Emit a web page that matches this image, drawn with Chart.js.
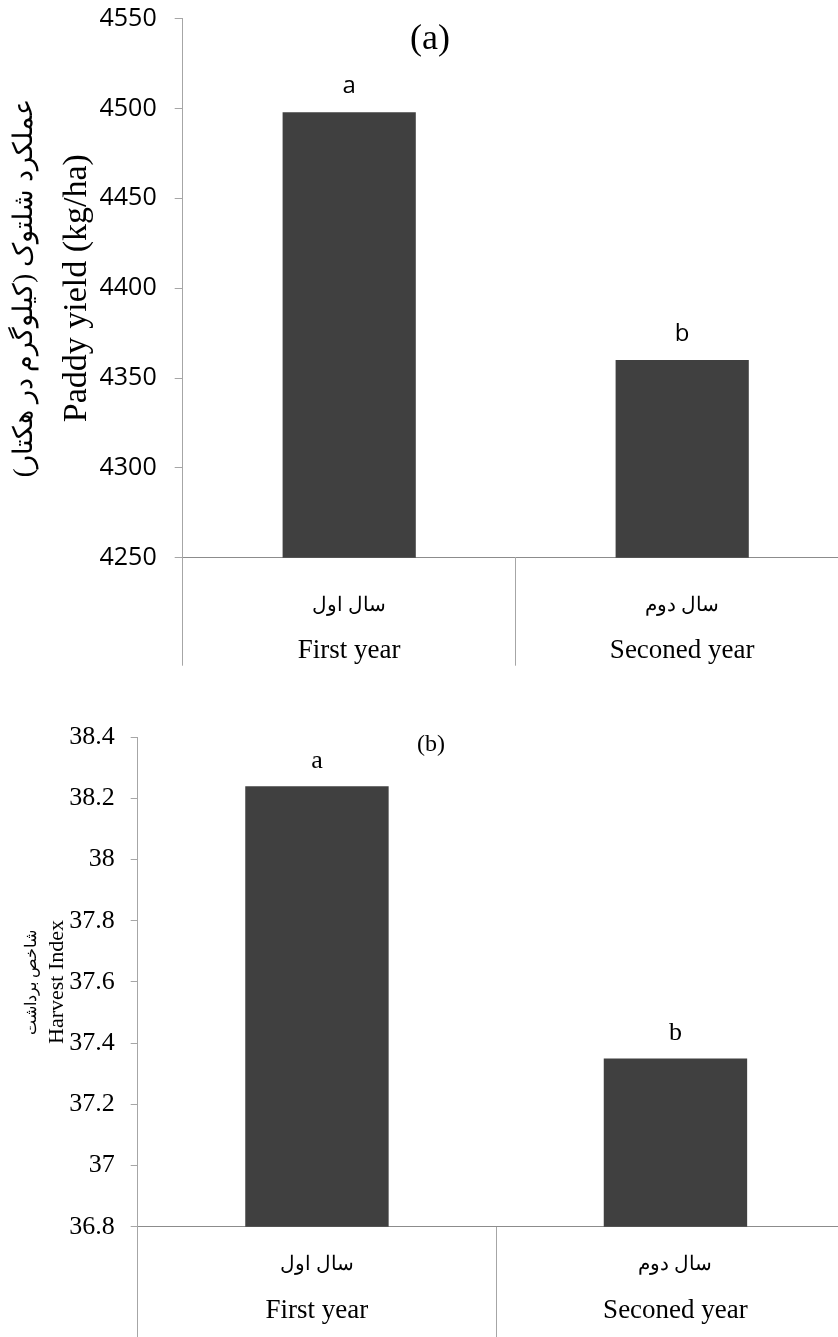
<!DOCTYPE html>
<html>
<head>
<meta charset="utf-8">
<script src="https://cdn.jsdelivr.net/npm/chart.js@4.4.0/dist/chart.umd.min.js"></script>
<style>
  html, body { margin: 0; padding: 0; background: #fff; overflow: hidden; }
  #wrap { position: relative; width: 838px; height: 1337px; overflow: hidden; }
  canvas { position: absolute; left: 0; }
  #chartA { top: 0; width: 860px; height: 680px; }
  #chartB { top: 680px; width: 870px; height: 657px; }
</style>
</head>
<body>
<div id="wrap">
  <canvas id="chartA" width="860" height="680"></canvas>
  <canvas id="chartB" width="870" height="657"></canvas>
</div>
<script>
// ---------------- DATA ----------------

const yearsFa = ['سال اول', 'سال دوم'];
const yearsEn = ['First year', 'Seconed year'];

const paddyYield = [4498, 4360];
const paddyLetters = ['a', 'b'];
const paddyTicks = [4250, 4300, 4350, 4400, 4450, 4500, 4550];

const harvestIndex = [38.24, 37.35];
const harvestLetters = ['a', 'b'];
const harvestTicks = [36.8, 37, 37.2, 37.4, 37.6, 37.8, 38, 38.2, 38.4];

const SERIF = '"Liberation Serif", "Times New Roman", serif';
const SANS = '"Open Sans", "Noto Sans", sans-serif';
const AXIS_GREY = '#a6a6a6';


// -------- PLUGINS --------

// significance letters above the bars
const barLetters = {
  id: 'barLetters',
  afterDatasetsDraw(chart, args, opts) {
    const ctx = chart.ctx;
    ctx.save();
    ctx.font = opts.font;
    ctx.fillStyle = '#000';
    ctx.textAlign = 'center';
    ctx.textBaseline = 'middle';
    chart.getDatasetMeta(0).data.forEach((bar, i) => {
      ctx.fillText(opts.letters[i], bar.x, bar.y - opts.gap);
    });
    ctx.restore();
  }
};

// persian category names, one level above the english ticks
const faLabels = {
  id: 'faLabels',
  afterDraw(chart, args, opts) {
    const ctx = chart.ctx;
    const xs = chart.scales.x;
    ctx.save();
    ctx.font = opts.font;
    ctx.fillStyle = '#000';
    ctx.textAlign = 'center';
    ctx.textBaseline = 'middle';
    ctx.direction = 'rtl';
    opts.labels.forEach((t, i) => {
      ctx.fillText(t, xs.getPixelForTick(i), xs.top + opts.offset);
    });
    ctx.restore();
  }
};

// two-font rotated y title + panel caption
const sideTitle = {
  id: 'sideTitle',
  afterDraw(chart, args, opts) {
    const { ctx, chartArea } = chart;
    const cy = (chartArea.top + chartArea.bottom) / 2 + (opts.shift || 0);
    ctx.save();
    ctx.fillStyle = '#000';
    ctx.textAlign = 'center';
    ctx.textBaseline = 'middle';
    opts.lines.forEach(l => {
      ctx.save();
      ctx.translate(l.x, cy);
      ctx.rotate(-Math.PI / 2);
      ctx.font = l.font;
      ctx.direction = l.rtl ? 'rtl' : 'ltr';
      ctx.fillText(l.text, 0, 0);
      ctx.restore();
    });
    const c = opts.caption;
    ctx.font = c.font;
    ctx.fillText(c.text, c.x, c.y);
    ctx.restore();
  }
};


// -------- CHART FACTORY --------

function makeBarChart(canvasId, cfg) {
  return new Chart(document.getElementById(canvasId), {
    type: 'bar',
    data: {
      labels: yearsEn,
      datasets: [{
        data: cfg.values,
        backgroundColor: '#404040',
        barPercentage: 0.4,
        categoryPercentage: 1
      }]
    },
    options: {
      responsive: false,
      animation: false,
      devicePixelRatio: 1,
      layout: { padding: cfg.padding },
      plugins: {
        legend: { display: false },
        tooltip: { enabled: false },
        barLetters: { letters: cfg.letters, font: cfg.letterFont, gap: cfg.letterGap },
        faLabels: { labels: yearsFa, font: cfg.faFont, offset: cfg.faOffset },
        sideTitle: { lines: cfg.titleLines, caption: cfg.caption, shift: 0 }
      },
      scales: {
        x: {
          grid: {
            offset: true,
            drawOnChartArea: false,
            tickLength: cfg.xTickLength,
            color: AXIS_GREY
          },
          border: { color: '#8c8c8c' },
          ticks: {
            padding: cfg.xPadding,
            color: '#000',
            font: { family: SERIF, size: 27, lineHeight: 1.2 }
          },
          afterFit: s => {
            s.height = cfg.xHeight;
            s.paddingLeft = 0;
            s.paddingRight = 0;
          }
        },
        y: {
          min: cfg.ticks[0],
          max: cfg.ticks[cfg.ticks.length - 1],
          afterBuildTicks: s => { s.ticks = cfg.ticks.map(v => ({ value: v })); },
          grid: { drawOnChartArea: false, tickLength: cfg.yTickLength, color: AXIS_GREY },
          border: { color: AXIS_GREY },
          ticks: {
            padding: cfg.yPadding,
            color: '#000',
            font: cfg.yFont,
            callback: v => String(+Number(v).toFixed(1))
          },
          afterFit: s => {
            s.width = cfg.yWidth;
            s.paddingTop = 0;
            s.paddingBottom = 0;
          }
        }
      }
    },
    plugins: [barLetters, faLabels, sideTitle]
  });
}


// ---------------- RENDER ----------------

makeBarChart('chartA', {
  values: paddyYield,
  letters: paddyLetters,
  ticks: paddyTicks,
  padding: { top: 18.7, right: 11.3, left: 0, bottom: 0 },
  xHeight: 122.3,
  xTickLength: 108,
  xPadding: -31,
  faFont: '20px ' + SERIF,
  faOffset: 48.5,
  yWidth: 182.7,
  yTickLength: 8,
  yPadding: 18,
  yFont: { family: SANS, size: 25 },
  letterFont: '24px ' + SANS,
  letterGap: 26,
  titleLines: [
    { text: 'عملکرد شلتوک (کیلوگرم در هکتار)', x: 25, font: '27px ' + SERIF, rtl: true },
    { text: 'Paddy yield (kg/ha)', x: 77, font: '34px ' + SERIF }
  ],
  caption: { text: '(a)', x: 430, y: 40, font: '36px ' + SERIF }
});

makeBarChart('chartB', {
  values: harvestIndex,
  letters: harvestLetters,
  ticks: harvestTicks,
  padding: { top: 57.3, right: 15.3, left: 0, bottom: 0 },
  xHeight: 110.3,
  xTickLength: 112,
  xPadding: -44,
  faFont: '20px ' + SERIF,
  faOffset: 38,
  yWidth: 137.7,
  yTickLength: 7,
  yPadding: 16,
  yFont: { family: SERIF, size: 26 },
  letterFont: '26px ' + SERIF,
  letterGap: 25,
  titleLines: [
    { text: 'شاخص برداشت', x: 32, font: '16px ' + SERIF, rtl: true },
    { text: 'Harvest Index', x: 57, font: '22px ' + SERIF }
  ],
  caption: { text: '(b)', x: 431, y: 65, font: '24px ' + SERIF }
});
</script>
</body>
</html>
